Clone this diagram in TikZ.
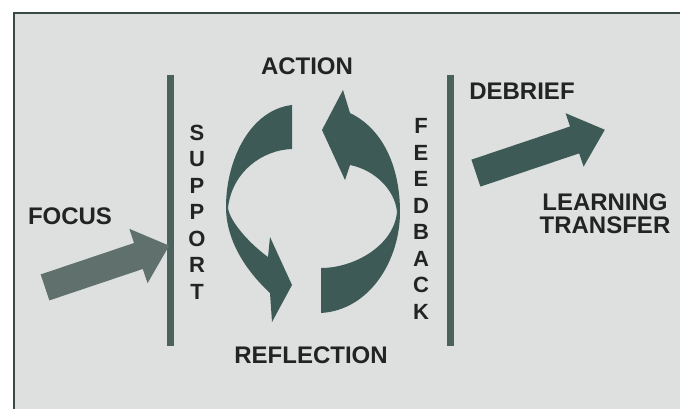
\documentclass[tikz,border=0pt]{standalone}
\usepackage{fontspec}
\setmainfont{Liberation Sans}
\usepackage{xcolor}
\usepackage{tikz}
\usetikzlibrary{shapes,arrows,positioning}

\definecolor{bgfill}{RGB}{221,224,223}
\definecolor{frameline}{RGB}{58,74,71}
\definecolor{darkarr}{RGB}{62,90,86}
\definecolor{lightarr}{RGB}{96,113,109}
\definecolor{barcol}{RGB}{74,97,92}
\definecolor{ink}{RGB}{34,36,36}

\begin{document}
\begin{tikzpicture}[x=1pt, y=-1pt,
  lbl/.style={font=\fontsize{24}{23}\selectfont\bfseries, text=ink,
              inner sep=0pt, align=center},
  vlbl/.style={font=\fontsize{22}{26.5}\selectfont\bfseries, text=ink,
               inner sep=0pt, align=center},
  bar/.style={line width=7.5pt, draw=barcol},
  blk/.style={single arrow, fill=darkarr, draw=none,
              inner xsep=0pt, inner ysep=14pt,
              minimum height=136pt, minimum width=56pt,
              single arrow head extend=14pt, single arrow tip angle=83,
              rotate=18.6},
  cyc/.style={fill=darkarr, draw=none}
]
\useasboundingbox (0,0) rectangle (680,409);
\fill[white] (0,0) rectangle (680,409);
\draw[fill=bgfill, draw=frameline, line width=2.5pt] (14,13) rectangle (700,430);

\draw[bar] (170.5,75) -- (170.5,346);
\draw[bar] (450.5,75) -- (450.5,346);

\node[lbl]  (action)   at (307,66)  {ACTION};
\node[lbl]  (refl)     at (311,355) {REFLECTION};
\node[lbl]  (focus)    at (70,216)  {FOCUS};
\node[lbl]  (debrief)  at (522,91)  {DEBRIEF};
\node[lbl]  (transfer) at (605,214) {LEARNING\\TRANSFER};
\node[vlbl] (support)  at (197,212) {S\\U\\P\\P\\O\\R\\T};
\node[vlbl] (feedback) at (421,219) {F\\E\\E\\D\\B\\A\\C\\K};

\node[blk, fill=lightarr, inner ysep=13.5pt, minimum height=131pt,
      minimum width=57pt, single arrow head extend=15pt]
      (focusarr) at (99.75,269) {};
\node[blk] (debarr) at (532.75,154) {};

\fill[cyc] (292,105) -- (292,149)
  .. controls (262,150) and (232,172) .. (228,208)
  .. controls (230,222) and (250,244) .. (268,257)
  -- (270,237) -- (292,285) -- (272,322) -- (270,293)
  .. controls (240,265) and (226,235) .. (226,207)
  .. controls (226,160) and (250,110) .. (292,105) -- cycle;
\fill[cyc] (321,313) -- (321,268)
  .. controls (355,268) and (394,245) .. (397,212)
  .. controls (395,190) and (375,170) .. (350,165)
  -- (345,180) -- (322,130) -- (343,90) -- (350,113)
  .. controls (385,130) and (400,170) .. (400,212)
  .. controls (400,260) and (370,310) .. (321,313) -- cycle;
\end{tikzpicture}
\end{document}
